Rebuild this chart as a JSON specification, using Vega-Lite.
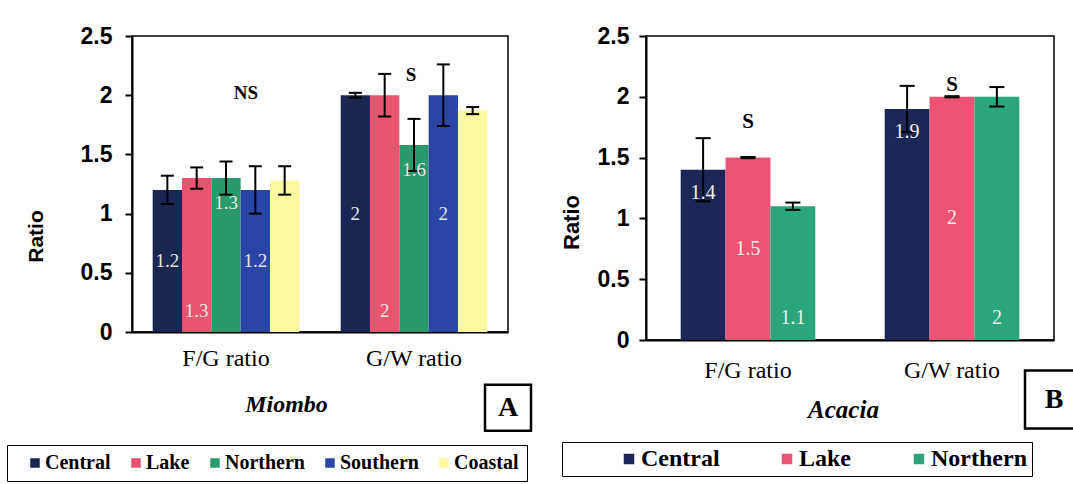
{
  "$schema": "https://vega.github.io/schema/vega-lite/v6.json",
  "background": "white",
  "padding": {"left": 5, "top": 24, "right": 0, "bottom": 0},
  "spacing": 22,
  "config": {
    "view": {"stroke": "black", "strokeWidth": 1.5},
    "axis": {"domainColor": "black", "domainWidth": 2, "tickColor": "black", "grid": false, "labelColor": "black", "titleColor": "black"}
  },
  "resolve": {
    "scale": {"color": "independent", "x": "independent", "y": "independent", "xOffset": "independent"},
    "legend": {"color": "independent"}
  },
  "datasets": {
    "miombo": [
      {"ratio": "F/G ratio", "region": "Central", "value": 1.2, "err": 0.12, "label": "1.2"},
      {"ratio": "F/G ratio", "region": "Lake", "value": 1.3, "err": 0.09, "label": "1.3"},
      {"ratio": "F/G ratio", "region": "Northern", "value": 1.3, "err": 0.14, "label": "1.3"},
      {"ratio": "F/G ratio", "region": "Southern", "value": 1.2, "err": 0.2, "label": "1.2"},
      {"ratio": "F/G ratio", "region": "Coastal", "value": 1.28, "err": 0.12, "label": ""},
      {"ratio": "G/W ratio", "region": "Central", "value": 2.0, "err": 0.02, "label": "2"},
      {"ratio": "G/W ratio", "region": "Lake", "value": 2.0, "err": 0.18, "label": "2"},
      {"ratio": "G/W ratio", "region": "Northern", "value": 1.58, "err": 0.22, "label": "1.6"},
      {"ratio": "G/W ratio", "region": "Southern", "value": 2.0, "err": 0.26, "label": "2"},
      {"ratio": "G/W ratio", "region": "Coastal", "value": 1.87, "err": 0.03, "label": ""}
    ],
    "acacia": [
      {"ratio": "F/G ratio", "region": "Central", "value": 1.4, "err": 0.26, "label": "1.4"},
      {"ratio": "F/G ratio", "region": "Lake", "value": 1.5, "err": 0.005, "label": "1.5"},
      {"ratio": "F/G ratio", "region": "Northern", "value": 1.1, "err": 0.03, "label": "1.1"},
      {"ratio": "G/W ratio", "region": "Central", "value": 1.9, "err": 0.19, "label": "1.9"},
      {"ratio": "G/W ratio", "region": "Lake", "value": 2.0, "err": 0.005, "label": "2"},
      {"ratio": "G/W ratio", "region": "Northern", "value": 2.0, "err": 0.08, "label": "2"}
    ],
    "notesA": [
      {"ratio": "F/G ratio", "text": "NS", "y": 2.02},
      {"ratio": "G/W ratio", "text": "S", "y": 2.17}
    ],
    "notesB": [
      {"ratio": "F/G ratio", "text": "S", "y": 1.79},
      {"ratio": "G/W ratio", "text": "S", "y": 2.1}
    ]
  },
  "hconcat": [
    {
      "width": 376,
      "height": 296,
      "encoding": {
        "x": {
          "field": "ratio", "type": "nominal", "sort": ["F/G ratio", "G/W ratio"],
          "scale": {"paddingInner": 0.22, "paddingOuter": 0.11},
          "axis": {
            "title": "Miombo", "labelAngle": 0, "ticks": false, "tickSize": 0, "labelPadding": 14,
            "labelFont": "Liberation Serif", "labelFontSize": 24, "labelFontWeight": "normal",
            "titleFont": "Liberation Serif", "titleFontSize": 24, "titleFontWeight": "bold", "titleFontStyle": "italic",
            "titlePadding": 22, "titleX": 154
          }
        }
      },
      "layer": [
        {
          "data": {"name": "miombo"},
          "mark": {"type": "bar"},
          "encoding": {
            "xOffset": {"field": "region", "type": "nominal", "sort": ["Central", "Lake", "Northern", "Southern", "Coastal"], "scale": {"paddingInner": 0, "paddingOuter": 0}},
            "y": {
              "field": "value", "type": "quantitative", "scale": {"domain": [0, 2.5], "nice": false},
              "axis": {
                "title": "Ratio", "values": [0, 0.5, 1, 1.5, 2, 2.5], "format": ".1~f",
                "labelFont": "Liberation Sans", "labelFontSize": 23, "labelFontWeight": "bold", "labelPadding": 13,
                "tickSize": 7, "tickWidth": 2,
                "titleFont": "Liberation Sans", "titleFontSize": 21, "titleFontWeight": "bold", "titlePadding": 34, "titleY": 200
              }
            },
            "color": {
              "field": "region", "type": "nominal", "sort": ["Central", "Lake", "Northern", "Southern", "Coastal"],
              "scale": {"domain": ["Central", "Lake", "Northern", "Southern", "Coastal"], "range": ["#1b2551", "#e8536f", "#2a9a6c", "#2946a6", "#fbf9a0"]},
              "legend": {
                "title": null, "orient": "none", "legendX": -125, "legendY": 409, "direction": "horizontal",
                "padding": 8, "strokeColor": "black",
                "symbolType": "square", "symbolSize": 90, "symbolOffset": 10, "symbolStrokeWidth": 0,
                "columnPadding": 5, "labelOffset": 0, "labelLimit": 0,
                "labelFont": "Liberation Serif", "labelFontSize": 20, "labelFontWeight": "bold", "labelColor": "black"
              }
            }
          }
        },
        {
          "data": {"name": "miombo"},
          "transform": [{"calculate": "datum.value - datum.err", "as": "lo"}, {"calculate": "datum.value + datum.err", "as": "hi"}],
          "mark": {"type": "rule", "color": "black", "strokeWidth": 2},
          "encoding": {
            "xOffset": {"field": "region", "type": "nominal", "sort": ["Central", "Lake", "Northern", "Southern", "Coastal"]},
            "y": {"field": "lo", "type": "quantitative"},
            "y2": {"field": "hi"}
          }
        },
        {
          "data": {"name": "miombo"},
          "transform": [{"calculate": "datum.value + datum.err", "as": "hi"}],
          "mark": {"type": "tick", "color": "black", "thickness": 2, "size": 13, "opacity": 1},
          "encoding": {
            "xOffset": {"field": "region", "type": "nominal", "sort": ["Central", "Lake", "Northern", "Southern", "Coastal"]},
            "y": {"field": "hi", "type": "quantitative"}
          }
        },
        {
          "data": {"name": "miombo"},
          "transform": [{"calculate": "datum.value - datum.err", "as": "lo"}],
          "mark": {"type": "tick", "color": "black", "thickness": 2, "size": 13, "opacity": 1},
          "encoding": {
            "xOffset": {"field": "region", "type": "nominal", "sort": ["Central", "Lake", "Northern", "Southern", "Coastal"]},
            "y": {"field": "lo", "type": "quantitative"}
          }
        },
        {
          "data": {"name": "miombo"},
          "transform": [{"filter": "datum.region == 'Central' || datum.region == 'Southern'"}, {"calculate": "datum.value / 2", "as": "mid"}],
          "mark": {"type": "text", "font": "Liberation Serif", "fontSize": 19, "color": "#e4e4e4"},
          "encoding": {
            "xOffset": {"field": "region", "type": "nominal", "sort": ["Central", "Lake", "Northern", "Southern", "Coastal"]},
            "y": {"field": "mid", "type": "quantitative"},
            "text": {"field": "label"}
          }
        },
        {
          "data": {"name": "miombo"},
          "transform": [{"filter": "datum.region == 'Lake'"}],
          "mark": {"type": "text", "font": "Liberation Serif", "fontSize": 19, "color": "#e4e4e4", "dy": -21},
          "encoding": {
            "xOffset": {"field": "region", "type": "nominal", "sort": ["Central", "Lake", "Northern", "Southern", "Coastal"]},
            "y": {"datum": 0, "type": "quantitative"},
            "text": {"field": "label"}
          }
        },
        {
          "data": {"name": "miombo"},
          "transform": [{"filter": "datum.region == 'Northern'"}],
          "mark": {"type": "text", "font": "Liberation Serif", "fontSize": 19, "color": "#e4e4e4", "dy": 25},
          "encoding": {
            "xOffset": {"field": "region", "type": "nominal", "sort": ["Central", "Lake", "Northern", "Southern", "Coastal"]},
            "y": {"field": "value", "type": "quantitative"},
            "text": {"field": "label"}
          }
        },
        {
          "data": {"name": "notesA"},
          "transform": [{"filter": "datum.text == 'NS'"}],
          "mark": {"type": "text", "font": "Liberation Serif", "fontSize": 19, "fontWeight": "bold", "color": "black", "dx": 20},
          "encoding": {
            "y": {"field": "y", "type": "quantitative"},
            "text": {"field": "text"}
          }
        },
        {
          "data": {"name": "notesA"},
          "transform": [{"filter": "datum.text == 'S'"}],
          "mark": {"type": "text", "font": "Liberation Serif", "fontSize": 19, "fontWeight": "bold", "color": "black", "dx": -3},
          "encoding": {
            "y": {"field": "y", "type": "quantitative"},
            "text": {"field": "text"}
          }
        },
        {
          "data": {"values": [{"tag": "A"}]},
          "mark": {"type": "point", "shape": "square", "size": 2116, "filled": true, "fill": "white", "stroke": "black", "strokeWidth": 2.5, "opacity": 1},
          "encoding": {
            "x": {"value": "width"},
            "y": {"datum": -0.64, "type": "quantitative"}
          }
        },
        {
          "data": {"values": [{"tag": "A"}]},
          "mark": {"type": "text", "font": "Liberation Serif", "fontSize": 28, "fontWeight": "bold", "color": "black"},
          "encoding": {
            "x": {"value": "width"},
            "y": {"datum": -0.64, "type": "quantitative"},
            "text": {"field": "tag"}
          }
        }
      ]
    },
    {
      "width": 408,
      "height": 304,
      "encoding": {
        "x": {
          "field": "ratio", "type": "nominal", "sort": ["F/G ratio", "G/W ratio"],
          "scale": {"paddingInner": 0.34, "paddingOuter": 0.17},
          "axis": {
            "title": "Acacia", "labelAngle": 0, "ticks": false, "tickSize": 0, "labelPadding": 18,
            "labelFont": "Liberation Serif", "labelFontSize": 24, "labelFontWeight": "normal",
            "titleFont": "Liberation Serif", "titleFontSize": 25, "titleFontWeight": "bold", "titleFontStyle": "italic",
            "titlePadding": 15, "titleX": 197
          }
        }
      },
      "layer": [
        {
          "data": {"name": "acacia"},
          "mark": {"type": "bar"},
          "encoding": {
            "xOffset": {"field": "region", "type": "nominal", "sort": ["Central", "Lake", "Northern"], "scale": {"paddingInner": 0, "paddingOuter": 0}},
            "y": {
              "field": "value", "type": "quantitative", "scale": {"domain": [0, 2.5], "nice": false},
              "axis": {
                "title": "Ratio", "values": [0, 0.5, 1, 1.5, 2, 2.5], "format": ".1~f",
                "labelFont": "Liberation Sans", "labelFontSize": 23, "labelFontWeight": "bold", "labelPadding": 10,
                "tickSize": 7, "tickWidth": 2,
                "titleFont": "Liberation Sans", "titleFontSize": 22, "titleFontWeight": "bold", "titlePadding": 14, "titleY": 186
              }
            },
            "color": {
              "field": "region", "type": "nominal", "sort": ["Central", "Lake", "Northern"],
              "scale": {"domain": ["Central", "Lake", "Northern"], "range": ["#1c2757", "#ee5274", "#2ba57c"]},
              "legend": {
                "title": null, "orient": "none", "legendX": -84, "legendY": 406, "direction": "horizontal",
                "padding": 5, "strokeColor": "black",
                "symbolType": "square", "symbolSize": 110, "symbolOffset": 50, "symbolStrokeWidth": 0,
                "columnPadding": 5, "labelOffset": 0, "labelLimit": 0,
                "labelFont": "Liberation Serif", "labelFontSize": 24, "labelFontWeight": "bold", "labelColor": "black"
              }
            }
          }
        },
        {
          "data": {"name": "acacia"},
          "transform": [{"calculate": "datum.value - datum.err", "as": "lo"}, {"calculate": "datum.value + datum.err", "as": "hi"}],
          "mark": {"type": "rule", "color": "black", "strokeWidth": 2},
          "encoding": {
            "xOffset": {"field": "region", "type": "nominal", "sort": ["Central", "Lake", "Northern"]},
            "y": {"field": "lo", "type": "quantitative"},
            "y2": {"field": "hi"}
          }
        },
        {
          "data": {"name": "acacia"},
          "transform": [{"calculate": "datum.value + datum.err", "as": "hi"}],
          "mark": {"type": "tick", "color": "black", "thickness": 2, "size": 15, "opacity": 1},
          "encoding": {
            "xOffset": {"field": "region", "type": "nominal", "sort": ["Central", "Lake", "Northern"]},
            "y": {"field": "hi", "type": "quantitative"}
          }
        },
        {
          "data": {"name": "acacia"},
          "transform": [{"calculate": "datum.value - datum.err", "as": "lo"}],
          "mark": {"type": "tick", "color": "black", "thickness": 2, "size": 15, "opacity": 1},
          "encoding": {
            "xOffset": {"field": "region", "type": "nominal", "sort": ["Central", "Lake", "Northern"]},
            "y": {"field": "lo", "type": "quantitative"}
          }
        },
        {
          "data": {"name": "acacia"},
          "transform": [{"filter": "datum.region == 'Lake'"}, {"calculate": "datum.value / 2", "as": "mid"}],
          "mark": {"type": "text", "font": "Liberation Serif", "fontSize": 20, "color": "#eeeeee"},
          "encoding": {
            "xOffset": {"field": "region", "type": "nominal", "sort": ["Central", "Lake", "Northern"]},
            "y": {"field": "mid", "type": "quantitative"},
            "text": {"field": "label"}
          }
        },
        {
          "data": {"name": "acacia"},
          "transform": [{"filter": "datum.region == 'Northern'"}],
          "mark": {"type": "text", "font": "Liberation Serif", "fontSize": 20, "color": "#eeeeee", "dy": -22},
          "encoding": {
            "xOffset": {"field": "region", "type": "nominal", "sort": ["Central", "Lake", "Northern"]},
            "y": {"datum": 0, "type": "quantitative"},
            "text": {"field": "label"}
          }
        },
        {
          "data": {"name": "acacia"},
          "transform": [{"filter": "datum.region == 'Central'"}],
          "mark": {"type": "text", "font": "Liberation Serif", "fontSize": 20, "color": "#eeeeee", "dy": 23},
          "encoding": {
            "xOffset": {"field": "region", "type": "nominal", "sort": ["Central", "Lake", "Northern"]},
            "y": {"field": "value", "type": "quantitative"},
            "text": {"field": "label"}
          }
        },
        {
          "data": {"name": "notesB"},
          "mark": {"type": "text", "font": "Liberation Serif", "fontSize": 21, "fontWeight": "bold", "color": "black"},
          "encoding": {
            "y": {"field": "y", "type": "quantitative"},
            "text": {"field": "text"}
          }
        },
        {
          "data": {"values": [{"tag": "B"}]},
          "mark": {"type": "point", "shape": "square", "size": 3364, "filled": true, "fill": "white", "stroke": "black", "strokeWidth": 2.5, "opacity": 1},
          "encoding": {
            "x": {"value": "width"},
            "y": {"datum": -0.49, "type": "quantitative"}
          }
        },
        {
          "data": {"values": [{"tag": "B"}]},
          "mark": {"type": "text", "font": "Liberation Serif", "fontSize": 28, "fontWeight": "bold", "color": "black"},
          "encoding": {
            "x": {"value": "width"},
            "y": {"datum": -0.49, "type": "quantitative"},
            "text": {"field": "tag"}
          }
        }
      ]
    }
  ]
}
